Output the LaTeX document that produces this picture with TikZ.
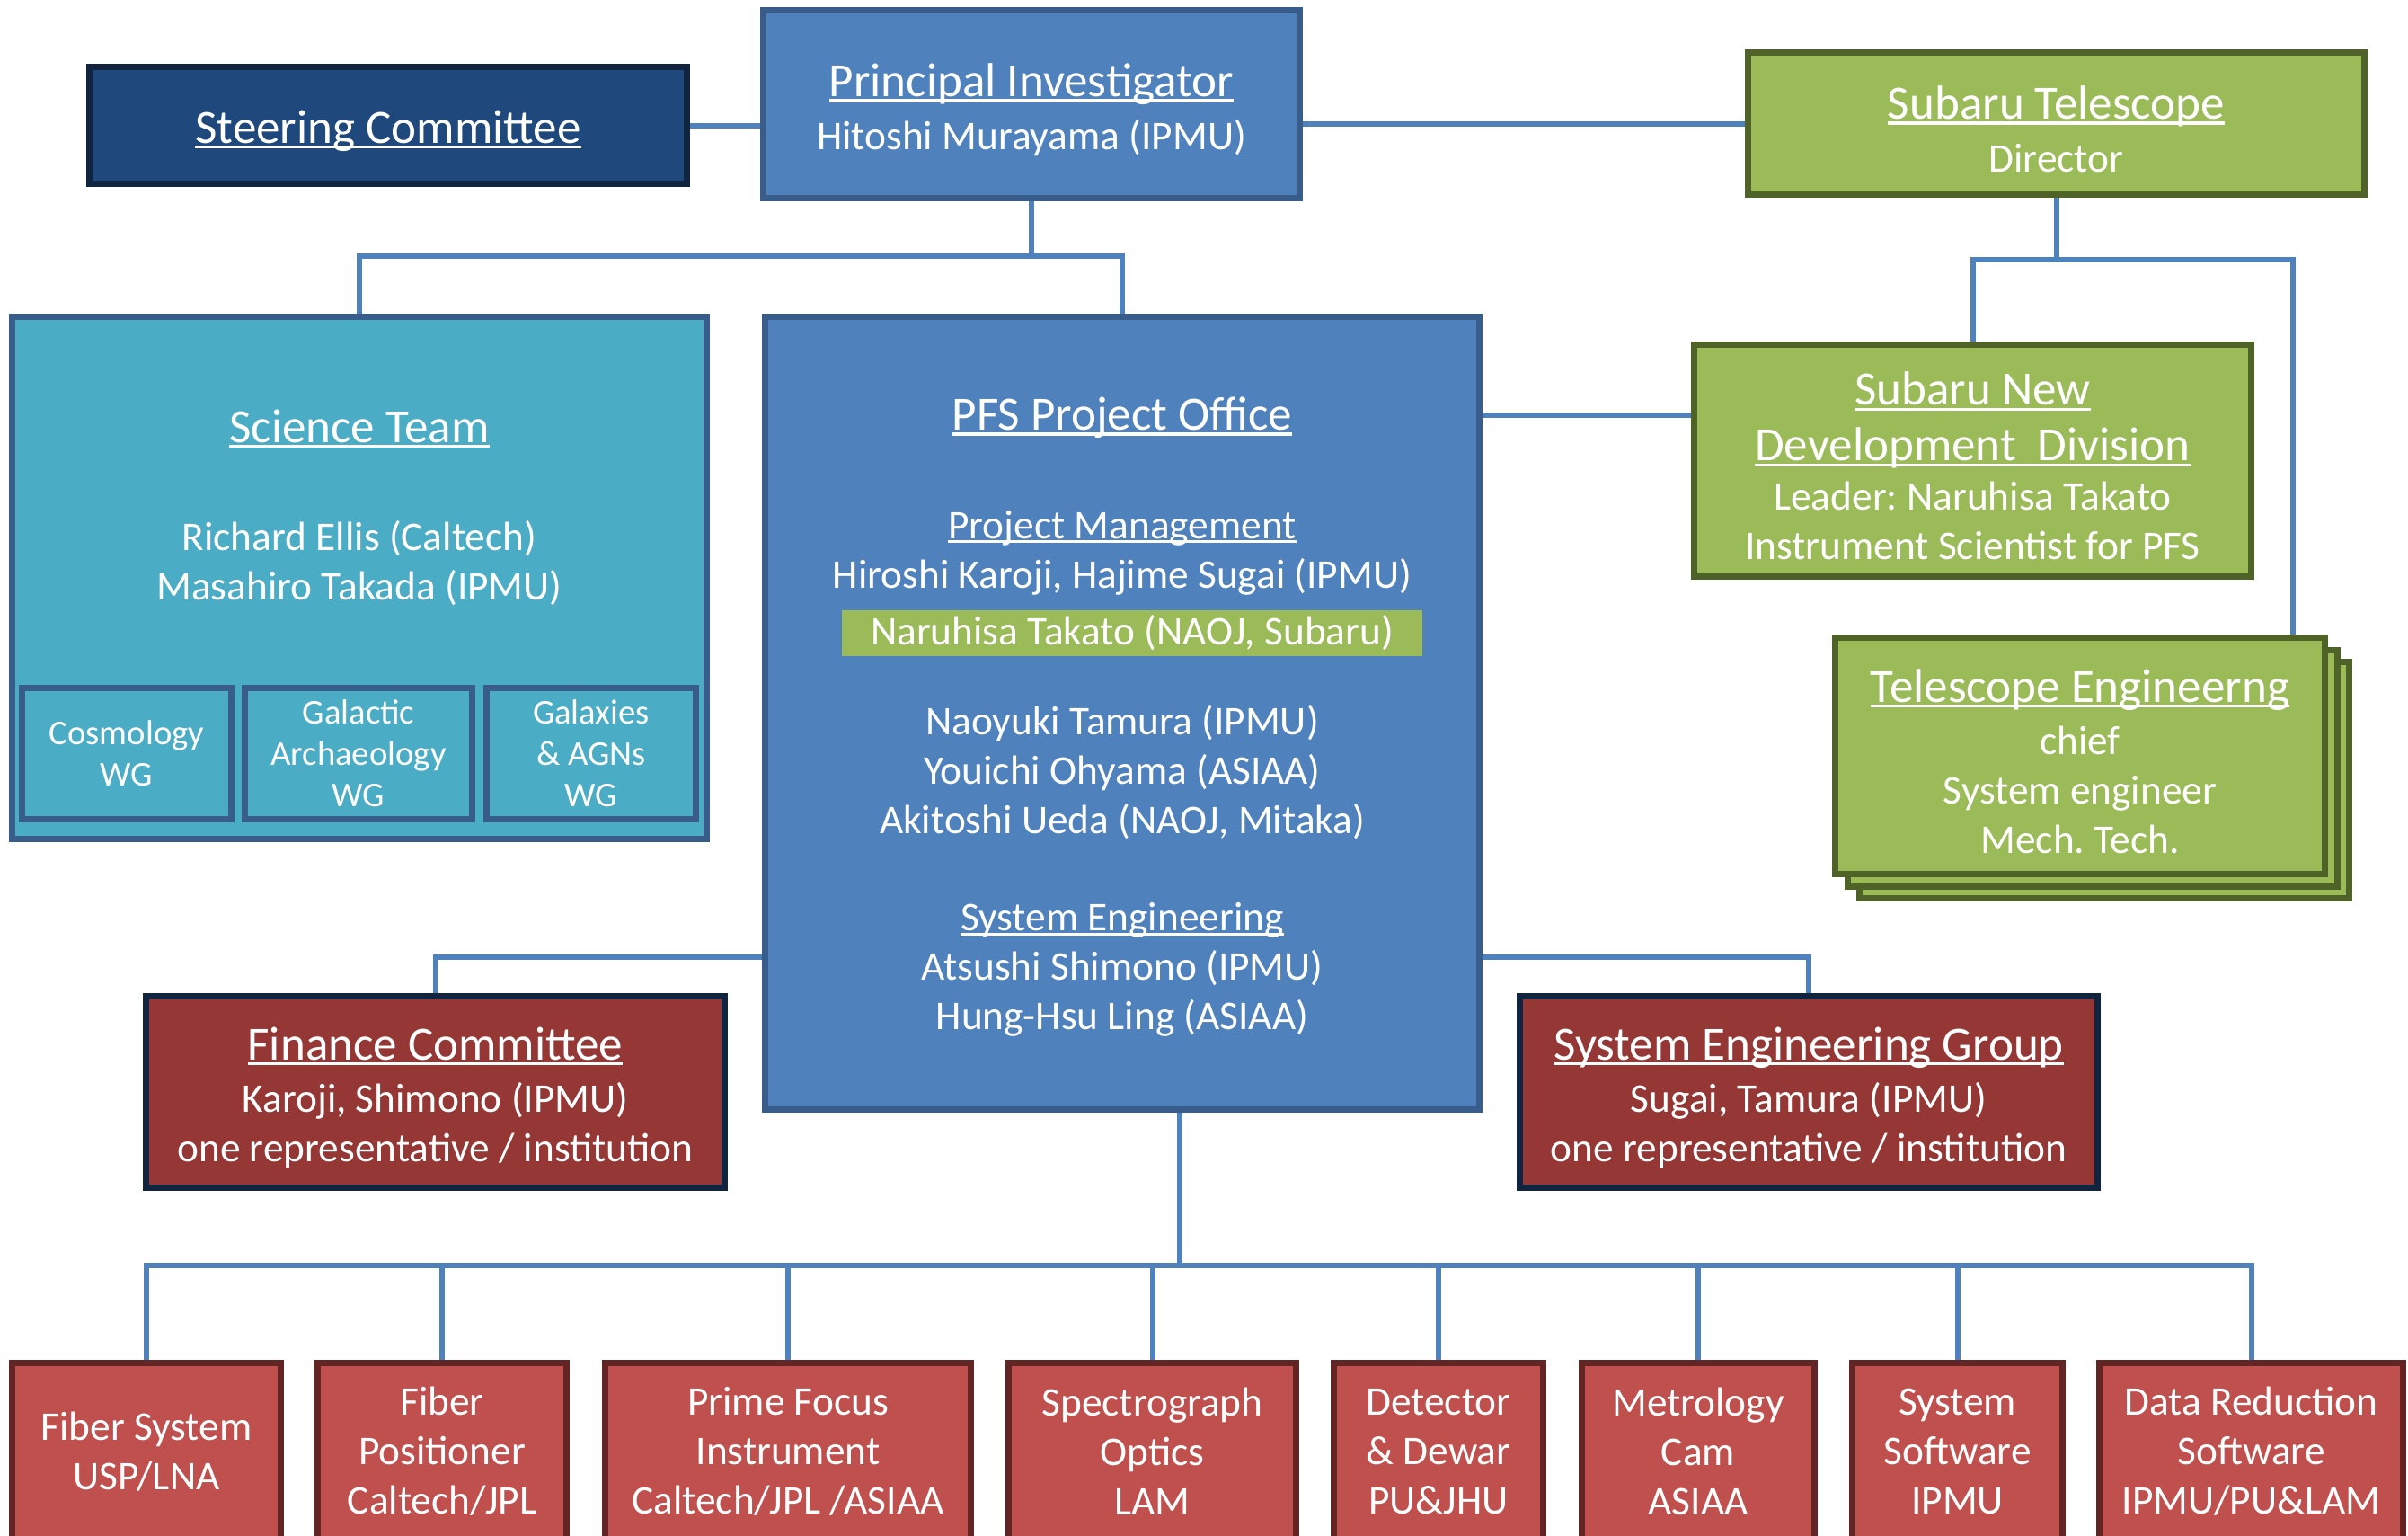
\documentclass[tikz,border=0pt]{standalone}
\usepackage{fontspec}
\setmainfont{Carlito}
\frenchspacing

\definecolor{piblue}{HTML}{4F81BD}
\definecolor{piedge}{HTML}{385D8A}
\definecolor{navyfill}{HTML}{1F497D}
\definecolor{navyedge}{HTML}{10243F}
\definecolor{teamfill}{HTML}{4BACC6}
\definecolor{subgreen}{HTML}{9BBB59}
\definecolor{greenedge}{HTML}{4F6228}
\definecolor{finfill}{HTML}{953735}
\definecolor{taskfill}{HTML}{C0504D}
\definecolor{taskedge}{HTML}{632523}

\newcommand\orgfont{\fontsize{12.9}{15.65}\selectfont}
\newcommand\wgfont{\fontsize{11}{13.1}\selectfont}
\newcommand\uln[1]{\setbox0\hbox{#1}\rlap{\rule[-0.11em]{\wd0}{0.06em}}\box0}
\newcommand\ttl[1]{{\fontsize{15.1}{18}\selectfont\uln{#1}}}
\newcommand\tstrut{\rule{0pt}{14pt}}

\begin{document}
\begin{tikzpicture}[x=1cm, y=-1cm,
	orgbox/.style={draw, line width=2pt, inner sep=0pt, align=center, text=white, font=\orgfont},
	blue box/.style={orgbox, fill=piblue, draw=piedge},
	navy box/.style={orgbox, fill=navyfill, draw=navyedge},
	team box/.style={orgbox, fill=teamfill, draw=piedge},
	green box/.style={orgbox, fill=subgreen, draw=greenedge},
	finance box/.style={orgbox, fill=finfill, draw=navyedge},
	task box/.style={orgbox, fill=taskfill, draw=taskedge, minimum height=1.97cm},
	link/.style={draw=piblue, line width=1.7pt},
	plain text/.style={text=white, align=center, inner sep=0pt, font=\orgfont}]

		\useasboundingbox (0, 0) rectangle (26.8, 17.08);
		\clip (0, 0) rectangle (26.8, 17.08);

		%%%%%%%%%%%%%%%%%%%%%%%%%%%% top row
		\node[navy box, minimum width=6.65cm, minimum height=1.30cm] (steer) at(4.32, 1.395){\tstrut\ttl{Steering Committee}};
		\node[blue box, minimum width=5.97cm, minimum height=2.09cm] (pi) at(11.48, 1.16){\tstrut\ttl{Principal Investigator}\\[1pt]Hitoshi Murayama (IPMU)};
		\node[green box, minimum width=6.86cm, minimum height=1.58cm] (subaru) at(22.885, 1.375){\tstrut\ttl{Subaru Telescope}\\[1pt]Director};

		\draw[link](steer.east) to (steer.east -| pi.west);
		\draw[link](pi.east |- subaru.west) to (subaru.west);

		%%%%%%%%%%%%%%%%%%%%%%%%%%%% science team
		\node[team box, minimum width=7.73cm, minimum height=5.81cm] (science) at(4.00, 6.43){};
			\node[plain text] (sciencetitle) at(4.00, 4.77){\ttl{Science Team}};
			\node[plain text] (sciencechairs) at(4.00, 6.265){Richard Ellis (Caltech)\\Masahiro Takada (IPMU)};
			\node[team box, font=\wgfont, minimum width=2.33cm, minimum height=1.46cm] (cosmo) at(1.41, 8.385){Cosmology\\WG};
			\node[team box, font=\wgfont, minimum width=2.53cm, minimum height=1.46cm] (galarch) at(3.99, 8.385){Galactic\\Archaeology\\WG};
			\node[team box, font=\wgfont, minimum width=2.33cm, minimum height=1.46cm] (agn) at(6.58, 8.385){Galaxies\\\& AGNs\\WG};

		%%%%%%%%%%%%%%%%%%%%%%%%%%%% project office
		\node[blue box, minimum width=7.95cm, minimum height=8.82cm] (pfs) at(12.49, 7.935){};
			\node[plain text] (pfstitle) at(12.49, 4.65){\ttl{PFS Project Office}};
			\node[plain text] (pm) at(12.49, 6.15){\uln{Project Management}\\Hiroshi Karoji, Hajime Sugai (IPMU)};
			\node[plain text, fill=subgreen, minimum width=6.46cm, minimum height=0.51cm] (takato) at(12.60, 7.045){Naruhisa Takato (NAOJ, Subaru)};
			\node[plain text] (pfsstaff) at(12.49, 8.59){Naoyuki Tamura (IPMU)\\Youichi Ohyama (ASIAA)\\Akitoshi Ueda (NAOJ, Mitaka)};
			\node[plain text] (syseng) at(12.49, 10.79){\uln{System Engineering}\\Atsushi Shimono (IPMU)\\Hung-Hsu Ling (ASIAA)};

		\coordinate (pibus) at(11.48, 2.85);
		\draw[link](pi.south) to (pibus);
		\draw[link](science.north) |- (pibus) -| (pfs.north);

		%%%%%%%%%%%%%%%%%%%%%%%%%%%% subaru side
		\node[green box, minimum width=6.20cm, minimum height=2.58cm] (newdev) at(21.955, 5.125){\tstrut\ttl{Subaru New}\\[2pt]\ttl{Development~~Division}\\Leader: Naruhisa Takato\\Instrument Scientist for PFS};
		\node[green box, minimum width=5.45cm, minimum height=2.63cm] (teleng3) at(23.42, 8.68){};
		\node[green box, minimum width=5.45cm, minimum height=2.63cm] (teleng2) at(23.285, 8.545){};
		\node[green box, minimum width=5.45cm, minimum height=2.63cm] (teleng) at(23.15, 8.41){\tstrut\ttl{Telescope Engineerng}\\[1pt]chief\\System engineer\\Mech. Tech.};

		\coordinate (subbus) at(22.885, 2.89);
		\coordinate (tejoin) at(25.52, 2.89);
		\coordinate (ndlink) at(18.82, 4.62);
		\draw[link](subaru.south) to (subbus);
		\draw[link](newdev.north) |- (tejoin) to (tejoin |- teleng.north);
		\draw[link](ndlink -| pfs.east) to (ndlink);

		%%%%%%%%%%%%%%%%%%%%%%%%%%%% committees
		\node[finance box, minimum width=6.44cm, minimum height=2.13cm] (finance) at(4.845, 12.15){\tstrut\ttl{Finance Committee}\\[1pt]Karoji, Shimono (IPMU)\\one representative / institution};
		\node[finance box, minimum width=6.43cm, minimum height=2.13cm] (seg) at(20.13, 12.15){\tstrut\ttl{System Engineering Group}\\[1pt]Sugai, Tamura (IPMU)\\one representative / institution};

		\coordinate (comlink) at(12.49, 10.65);
		\draw[link](comlink -| pfs.west) -| (finance.north);
		\draw[link](comlink -| pfs.east) -| (seg.north);

		%%%%%%%%%%%%%%%%%%%%%%%%%%%% subsystems
		\node[task box, minimum width=2.99cm] (fibsys) at(1.63, 16.15){Fiber System\\USP/LNA};
		\node[task box, minimum width=2.77cm] (fibpos) at(4.92, 16.15){Fiber\\Positioner\\Caltech/JPL};
		\node[task box, minimum width=4.07cm] (pfi) at(8.77, 16.15){Prime Focus\\Instrument\\Caltech/JPL /ASIAA};
		\node[task box, minimum width=3.20cm] (spec) at(12.825, 16.15){Spectrograph\\Optics\\LAM};
		\node[task box, minimum width=2.33cm] (detector) at(16.01, 16.15){Detector\\\& Dewar\\PU\&JHU};
		\node[task box, minimum width=2.59cm] (metcam) at(18.90, 16.15){Metrology\\Cam\\ASIAA};
		\node[task box, minimum width=2.34cm] (syssoft) at(21.785, 16.15){System\\Software\\IPMU};
		\node[task box, minimum width=3.38cm] (drp) at(25.055, 16.15){Data Reduction\\Software\\IPMU/PU\&LAM};

		\coordinate (taskbus) at(13.13, 14.08);
		\draw[link](taskbus |- pfs.south) to (taskbus);
		\draw[link](fibsys.north) |- (taskbus) -| (drp.north);
		\draw[link](fibpos.north) to (fibpos.north |- taskbus);
		\draw[link](pfi.north) to (pfi.north |- taskbus);
		\draw[link](spec.north) to (spec.north |- taskbus);
		\draw[link](detector.north) to (detector.north |- taskbus);
		\draw[link](metcam.north) to (metcam.north |- taskbus);
		\draw[link](syssoft.north) to (syssoft.north |- taskbus);
\end{tikzpicture}
\end{document}
